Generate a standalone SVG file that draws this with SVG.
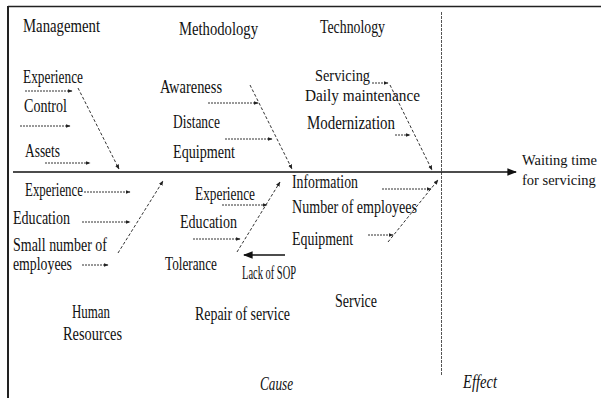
<svg xmlns="http://www.w3.org/2000/svg" width="601" height="398" viewBox="0 0 601 398">
<defs>
<style>
text{font-family:'Liberation Serif','Times New Roman',serif;font-size:18px;fill:#111}
.it{font-style:italic}
.sm{font-size:16px}
.ef{font-size:14.5px}
.dot{stroke:#333;stroke-width:1;stroke-dasharray:2 1;fill:none}
.bone{stroke:#333;stroke-width:1;stroke-dasharray:3 2;fill:none}
.solid{stroke:#111;stroke-width:1.6;fill:none}
</style>
<marker id="ah" viewBox="0 0 10 10" refX="9" refY="5" markerWidth="5" markerHeight="5" orient="auto">
<path d="M0,1 L10,5 L0,9 z" fill="#222"/>
</marker>
<marker id="ahb" viewBox="0 0 10 10" refX="9" refY="5" markerWidth="6" markerHeight="6" orient="auto">
<path d="M0,1 L10,5 L0,9 z" fill="#111"/>
</marker>
</defs>
<rect width="601" height="398" fill="#fff"/>
<g id="frame">
<line x1="8" y1="6.5" x2="601" y2="6.5" stroke="#222" stroke-width="1.5"/>
<line x1="8" y1="6" x2="8" y2="398" stroke="#222" stroke-width="2"/>
<line x1="441.5" y1="12" x2="441.5" y2="375" stroke="#555" stroke-width="1" stroke-dasharray="3 1"/>
</g>
<g id="connectors">
<line class="solid" x1="13" y1="172" x2="516" y2="172" marker-end="url(#ahb)"/>
<line class="bone" x1="78" y1="88" x2="119" y2="169" marker-end="url(#ah)"/>
<line class="bone" x1="250" y1="85" x2="292" y2="169" marker-end="url(#ah)"/>
<line class="bone" x1="390" y1="85" x2="432" y2="170" marker-end="url(#ah)"/>
<line class="bone" x1="118" y1="253" x2="163" y2="181" marker-end="url(#ah)"/>
<line class="bone" x1="237" y1="252" x2="280" y2="182" marker-end="url(#ah)"/>
<line class="bone" x1="388" y1="242" x2="438" y2="180" marker-end="url(#ah)"/>
<line class="dot" x1="25" y1="91" x2="72" y2="91" marker-end="url(#ah)"/>
<line class="dot" x1="20" y1="126" x2="70" y2="126" marker-end="url(#ah)"/>
<line class="dot" x1="45" y1="163" x2="90" y2="163" marker-end="url(#ah)"/>
<line class="dot" x1="208" y1="103" x2="258" y2="103" marker-end="url(#ah)"/>
<line class="dot" x1="225" y1="139" x2="272" y2="139" marker-end="url(#ah)"/>
<line class="dot" x1="372" y1="83" x2="388" y2="83" marker-end="url(#ah)"/>
<line class="dot" x1="395" y1="135" x2="410" y2="135" marker-end="url(#ah)"/>
<line class="dot" x1="84" y1="192" x2="130" y2="192" marker-end="url(#ah)"/>
<line class="dot" x1="82" y1="222" x2="130" y2="222" marker-end="url(#ah)"/>
<line class="dot" x1="82" y1="265" x2="108" y2="265" marker-end="url(#ah)"/>
<line class="dot" x1="222" y1="205" x2="267" y2="205" marker-end="url(#ah)"/>
<line class="dot" x1="193" y1="239" x2="240" y2="239" marker-end="url(#ah)"/>
<line class="dot" x1="382" y1="189" x2="431" y2="189" marker-end="url(#ah)"/>
<line class="dot" x1="368" y1="235" x2="393" y2="235" marker-end="url(#ah)"/>
<line class="solid" x1="285" y1="255" x2="244" y2="255" marker-end="url(#ahb)"/>
</g>
<g id="management">
<text x="23" y="32" textLength="77" lengthAdjust="spacingAndGlyphs">Management</text>
<text x="23" y="83" textLength="60" lengthAdjust="spacingAndGlyphs">Experience</text>
<text x="24" y="112" textLength="43" lengthAdjust="spacingAndGlyphs">Control</text>
<text x="25" y="157" textLength="35" lengthAdjust="spacingAndGlyphs">Assets</text>
</g>
<g id="methodology">
<text x="179" y="35" textLength="79" lengthAdjust="spacingAndGlyphs">Methodology</text>
<text x="160" y="93" textLength="62" lengthAdjust="spacingAndGlyphs">Awareness</text>
<text x="173" y="128" textLength="47" lengthAdjust="spacingAndGlyphs">Distance</text>
<text x="173" y="158" textLength="62" lengthAdjust="spacingAndGlyphs">Equipment</text>
</g>
<g id="technology">
<text x="320" y="33" textLength="65" lengthAdjust="spacingAndGlyphs">Technology</text>
<text class="sm" x="315" y="81" textLength="55" lengthAdjust="spacingAndGlyphs">Servicing</text>
<text class="sm" x="305" y="101" textLength="115" lengthAdjust="spacingAndGlyphs">Daily maintenance</text>
<text x="307" y="129" textLength="88" lengthAdjust="spacingAndGlyphs">Modernization</text>
</g>
<g id="human-resources">
<text x="25" y="196" textLength="58" lengthAdjust="spacingAndGlyphs">Experience</text>
<text x="13" y="224" textLength="57" lengthAdjust="spacingAndGlyphs">Education</text>
<text x="13" y="251" textLength="94" lengthAdjust="spacingAndGlyphs">Small number of</text>
<text x="13" y="270" textLength="59" lengthAdjust="spacingAndGlyphs">employees</text>
<text x="72" y="318" textLength="38" lengthAdjust="spacingAndGlyphs">Human</text>
<text x="63" y="340" textLength="59" lengthAdjust="spacingAndGlyphs">Resources</text>
</g>
<g id="repair-of-service">
<text x="195" y="200" textLength="60" lengthAdjust="spacingAndGlyphs">Experience</text>
<text x="180" y="228" textLength="57" lengthAdjust="spacingAndGlyphs">Education</text>
<text x="165" y="270" textLength="52" lengthAdjust="spacingAndGlyphs">Tolerance</text>
<text x="242" y="279" textLength="54" lengthAdjust="spacingAndGlyphs">Lack of SOP</text>
<text x="195" y="320" textLength="95" lengthAdjust="spacingAndGlyphs">Repair of service</text>
</g>
<g id="service">
<text x="292" y="188" textLength="66" lengthAdjust="spacingAndGlyphs">Information</text>
<text x="292" y="213" textLength="125" lengthAdjust="spacingAndGlyphs">Number of employees</text>
<text x="292" y="245" textLength="61" lengthAdjust="spacingAndGlyphs">Equipment</text>
<text x="335" y="307" textLength="42" lengthAdjust="spacingAndGlyphs">Service</text>
</g>
<g id="effect">
<text class="ef" x="522" y="165">Waiting time</text>
<text class="ef" x="522" y="185">for servicing</text>
</g>
<g id="labels">
<text class="it" x="260" y="390" textLength="33" lengthAdjust="spacingAndGlyphs">Cause</text>
<text class="it" x="463" y="388" textLength="34" lengthAdjust="spacingAndGlyphs">Effect</text>
</g>
</svg>
